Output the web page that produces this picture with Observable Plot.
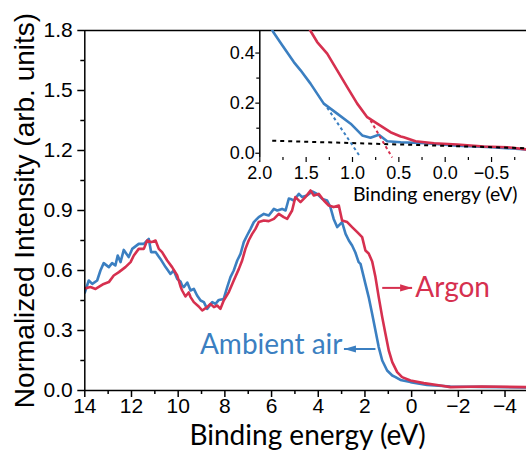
<!DOCTYPE html>
<html><head><meta charset="utf-8">
<script src="https://cdn.jsdelivr.net/npm/d3@7"></script>
<script src="https://cdn.jsdelivr.net/npm/@observablehq/plot@0.6"></script>
<style>
body{margin:0;background:#fff;}
#wrap{position:relative;width:526px;height:451px;overflow:hidden;background:#fff;}
#wrap svg{position:absolute;left:0;top:0;}
</style></head><body><div id="wrap"></div>
<script>
// ---- data: [binding energy (eV), normalized intensity] ----
const airMain = [[14.0,0.49],[13.83,0.55],[13.68,0.533],[13.47,0.55],[13.33,0.6],[13.19,0.637],[12.97,0.617],[12.83,0.637],[12.69,0.625],[12.59,0.675],[12.47,0.642],[12.33,0.703],[12.12,0.667],[11.97,0.708],[11.69,0.733],[11.47,0.733],[11.26,0.758],[11.16,0.692],[10.97,0.692],[10.76,0.658],[10.54,0.617],[10.33,0.583],[10.19,0.6],[10.04,0.558],[9.9,0.545],[9.83,0.525],[9.76,0.517],[9.61,0.54],[9.47,0.5],[9.33,0.508],[9.19,0.475],[9.04,0.45],[8.9,0.442],[8.76,0.408],[8.54,0.442],[8.4,0.433],[8.26,0.453],[8.05,0.458],[7.9,0.517],[7.76,0.567],[7.62,0.6],[7.47,0.65],[7.33,0.683],[7.19,0.742],[7.05,0.775],[6.9,0.808],[6.76,0.842],[6.55,0.867],[6.33,0.883],[6.12,0.875],[5.9,0.908],[5.76,0.9],[5.55,0.908],[5.4,0.9],[5.26,0.96],[5.19,0.958],[5.05,0.95],[4.83,0.983],[4.69,0.967],[4.48,0.975],[4.26,0.995],[4.05,0.983],[3.83,0.958],[3.62,0.95],[3.48,0.917],[3.34,0.858],[3.19,0.817],[2.98,0.842],[2.83,0.783],[2.69,0.75],[2.55,0.725],[2.41,0.69],[2.27,0.642],[2.19,0.633],[2.05,0.567],[1.98,0.533],[1.84,0.467],[1.69,0.383],[1.55,0.3],[1.41,0.217],[1.26,0.15],[1.05,0.1],[0.83,0.075],[0.69,0.067],[0.48,0.053],[0.05,0.042],[-0.66,0.028],[-1.66,0.02],[-3.0,0.018],[-4.92,0.015]];
const argonMain = [[14.0,0.51],[13.76,0.517],[13.54,0.508],[13.19,0.533],[12.97,0.542],[12.76,0.575],[12.54,0.592],[12.26,0.617],[12.04,0.642],[11.9,0.675],[11.69,0.708],[11.47,0.708],[11.33,0.75],[11.14,0.742],[10.97,0.75],[10.83,0.708],[10.69,0.692],[10.47,0.65],[10.26,0.617],[10.04,0.575],[9.9,0.52],[9.83,0.5],[9.69,0.47],[9.55,0.49],[9.47,0.467],[9.33,0.442],[9.12,0.42],[8.97,0.4],[8.76,0.417],[8.62,0.433],[8.47,0.417],[8.33,0.425],[8.19,0.408],[8.05,0.45],[7.83,0.492],[7.62,0.55],[7.4,0.608],[7.26,0.65],[7.12,0.708],[6.98,0.75],[6.83,0.783],[6.69,0.808],[6.55,0.842],[6.33,0.85],[6.12,0.847],[5.9,0.858],[5.69,0.883],[5.48,0.867],[5.33,0.858],[5.12,0.9],[4.98,0.967],[4.76,0.942],[4.55,0.967],[4.33,1.0],[4.19,0.975],[3.98,0.983],[3.76,0.95],[3.55,0.925],[3.34,0.917],[3.12,0.925],[2.98,0.85],[2.76,0.842],[2.55,0.817],[2.33,0.792],[2.12,0.767],[1.98,0.7],[1.84,0.685],[1.69,0.645],[1.55,0.567],[1.41,0.467],[1.26,0.367],[1.12,0.283],[0.98,0.2],[0.83,0.142],[0.62,0.092],[0.41,0.067],[0.05,0.05],[-0.52,0.037],[-1.23,0.025],[-1.66,0.017],[-3.0,0.02],[-4.92,0.017]];
const airInset = [[1.87,0.495],[1.855,0.484],[1.758,0.431],[1.633,0.364],[1.56,0.331],[1.453,0.278],[1.31,0.198],[1.165,0.158],[1.02,0.118],[0.895,0.071],[0.806,0.062],[0.716,0.074],[0.626,0.048],[0.48,0.044],[0.2,0.04],[-0.13,0.03],[-0.5,0.024],[-0.877,0.015]];
const argonInset = [[1.47,0.5],[1.446,0.484],[1.381,0.444],[1.273,0.398],[1.165,0.331],[1.057,0.264],[0.949,0.198],[0.841,0.144],[0.733,0.118],[0.59,0.084],[0.48,0.067],[0.447,0.064],[0.32,0.048],[0.12,0.04],[-0.13,0.035],[-0.417,0.027],[-0.67,0.024],[-0.877,0.015]];
// linear fits shown in inset: [x1, y1, x2, y2]
const fitBackground = [1.866, 0.05, -0.877, 0.02];
const fitAir = [1.273, 0.182, 0.914, -0.016];
const fitArgon = [0.806, 0.131, 0.572, -0.017];

// ticks
const mainXTicks = [14, 12, 10, 8, 6, 4, 2, 0, -2, -4];
const mainXMinor = [13, 11, 9, 7, 5, 3, 1, -1, -3];
const mainYTicks = [0, 0.3, 0.6, 0.9, 1.2, 1.5, 1.8];
const mainYMinor = [0.15, 0.45, 0.75, 1.05, 1.35, 1.65];
const insetXTicks = [2.0, 1.5, 1.0, 0.5, 0.0, -0.5];
const insetXMinor = [1.75, 1.25, 0.75, 0.25, -0.25, -0.75];
const insetYTicks = [0, 0.2, 0.4];
const insetYMinor = [0.1, 0.3];

// annotations (data coords)
const argonLabel = {name: "Argon", x: -0.16, y: 0.511};
const airLabel = {name: "Ambient air", x: 2.96, y: 0.225};
const arrows = [
  {x1: 1.26, x2: -0.02, y: 0.513, series: "argon"},
  {x1: 1.55, x2: 2.90, y: 0.2075, series: "air"}
];

const BLUE = "#3b7fc1", RED = "#d6304f";
const color = s => s === "argon" ? RED : BLUE;
const W = 526, H = 451;
const TICKFONT = "Liberation Sans, Arial, sans-serif";
const TITLEFONT = "Lato, Carlito, sans-serif";
const toObj = a => a.map(([e, v]) => ({e, v}));

const arrowHead = {draw(ctx, size) { const r = Math.sqrt(size / Math.PI); ctx.moveTo(r, 0); ctx.lineTo(-r, -r * 0.6); ctx.lineTo(-r, r * 0.6); ctx.closePath(); }};

const arrowMarks = arrows.flatMap(a => {
  const right = a.x2 < a.x1; // reversed x axis: smaller energy is to the right
  return [
    Plot.link([a], {x1: "x1", x2: "x2", y1: "y", y2: "y", stroke: color(a.series), strokeWidth: 2}),
    Plot.dot([a], {x: "x2", y: "y", symbol: arrowHead, r: 6, fill: color(a.series), stroke: "none", rotate: right ? 0 : 180, dx: right ? -6 : 6})
  ];
});

const main = Plot.plot({
  width: W, height: H,
  marginLeft: 84.3, marginRight: 0, marginTop: 30, marginBottom: 61,
  x: {domain: [14, -4.92]},
  y: {domain: [0, 1.8]},
  style: {background: "transparent", overflow: "visible", color: "black"},
  marks: [
    Plot.line(toObj(airMain), {x: "e", y: "v", stroke: BLUE, strokeWidth: 2.6, clip: true}),
    Plot.line(toObj(argonMain), {x: "e", y: "v", stroke: RED, strokeWidth: 2.6, clip: true}),
    Plot.ruleY([mainYTicks[mainYTicks.length - 1]], {stroke: "black", strokeWidth: 1.5}),
    Plot.ruleY([mainYTicks[0]], {stroke: "black", strokeWidth: 1.5}),
    Plot.ruleX([mainXTicks[0]], {stroke: "black", strokeWidth: 1.5}),
    Plot.axisX(mainXTicks, {anchor: "bottom", tickSize: 7, tickPadding: 1, strokeWidth: 1.5, fontSize: 21, fontFamily: TICKFONT, fill: "black", tickFormat: d3.format("d"), label: null}),
    Plot.axisX(mainXMinor, {anchor: "bottom", tickSize: 4, strokeWidth: 1.5, fill: "none", label: null}),
    Plot.axisY(mainYTicks, {anchor: "left", tickSize: 7, tickPadding: 5, strokeWidth: 1.5, fontSize: 21, fontFamily: TICKFONT, fill: "black", tickFormat: d3.format(".1f"), label: null}),
    Plot.axisY(mainYMinor, {anchor: "left", tickSize: 4, strokeWidth: 1.5, fill: "none", label: null}),
    Plot.text(["Binding energy (eV)"], {frameAnchor: "bottom", lineAnchor: "middle", textAnchor: "middle", dx: 2, dy: 46, fontSize: 28, fontFamily: TITLEFONT, fill: "black"}),
    Plot.text(["Normalized Intensity (arb. units)"], {frameAnchor: "left", lineAnchor: "middle", textAnchor: "middle", dx: -60, rotate: -90, fontSize: 28, fontFamily: TICKFONT, fill: "black"}),
    ...arrowMarks,
    Plot.text([argonLabel], {x: "x", y: "y", text: "name", textAnchor: "start", lineAnchor: "middle", fill: RED, fontSize: 28, fontFamily: TITLEFONT}),
    Plot.text([airLabel], {x: "x", y: "y", text: "name", textAnchor: "end", lineAnchor: "middle", fill: BLUE, fontSize: 28, fontFamily: TITLEFONT})
  ]
});

const inset = Plot.plot({
  width: W, height: H,
  marginLeft: 259.3, marginRight: 0, marginTop: 30, marginBottom: H - 157,
  x: {domain: [2.0, -0.877]},
  y: {domain: [-0.017, 0.49]},
  style: {background: "transparent", overflow: "visible", color: "black"},
  marks: [
    Plot.line(toObj(airInset), {x: "e", y: "v", stroke: BLUE, strokeWidth: 2.6, clip: true}),
    Plot.line(toObj(argonInset), {x: "e", y: "v", stroke: RED, strokeWidth: 2.6, clip: true}),
    Plot.link([fitBackground], {x1: d => d[0], y1: d => d[1], x2: d => d[2], y2: d => d[3], stroke: "black", strokeWidth: 2, strokeDasharray: "4,4"}),
    Plot.link([fitAir], {x1: d => d[0], y1: d => d[1], x2: d => d[2], y2: d => d[3], stroke: BLUE, strokeWidth: 2, strokeDasharray: "3,3"}),
    Plot.link([fitArgon], {x1: d => d[0], y1: d => d[1], x2: d => d[2], y2: d => d[3], stroke: RED, strokeWidth: 2, strokeDasharray: "3,3"}),
    Plot.ruleX([insetXTicks[0]], {stroke: "black", strokeWidth: 1.5}),
    Plot.axisX(insetXTicks, {anchor: "bottom", tickSize: 5, tickPadding: 4, strokeWidth: 1.2, fontSize: 18, fontFamily: TICKFONT, fill: "black", tickFormat: d3.format(".1f"), label: null}),
    Plot.axisX(insetXMinor, {anchor: "bottom", tickSize: 3, strokeWidth: 1.2, fill: "none", label: null}),
    Plot.axisY(insetYTicks, {anchor: "left", tickSize: 4, tickPadding: 1, strokeWidth: 1.2, fontSize: 18, fontFamily: TICKFONT, fill: "black", tickFormat: d3.format(".1f"), label: null}),
    Plot.axisY(insetYMinor, {anchor: "left", tickSize: 3, strokeWidth: 1.2, fill: "none", label: null}),
    Plot.text(["Binding energy (eV)"], {frameAnchor: "bottom-right", textAnchor: "end", lineAnchor: "middle", dx: -9, dy: 37, fontSize: 19.5, fontFamily: TITLEFONT, fill: "black"})
  ]
});

const wrap = document.getElementById("wrap");
wrap.appendChild(main);
wrap.appendChild(inset);
</script>
</body></html>
